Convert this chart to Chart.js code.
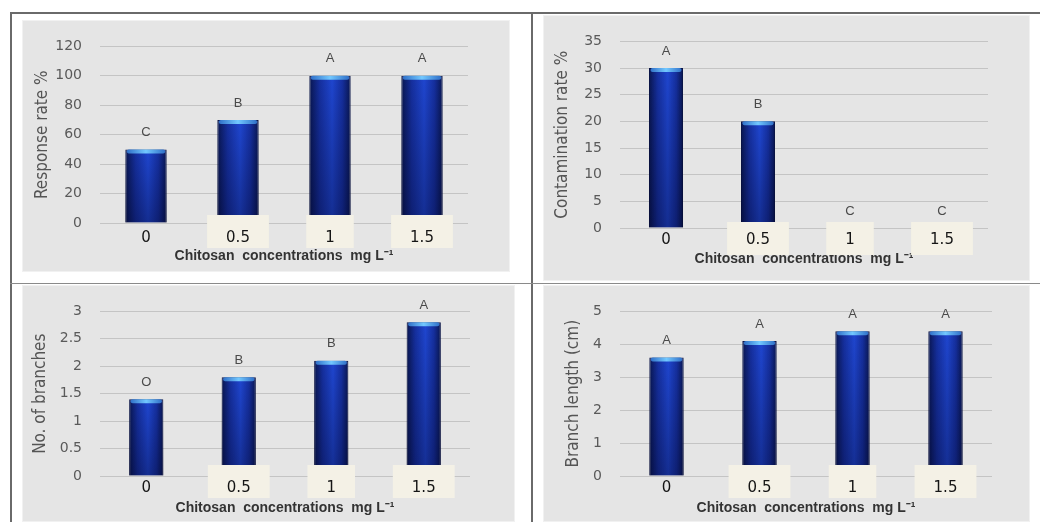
<!DOCTYPE html>
<html>
<head>
<meta charset="utf-8">
<script src="https://cdn.jsdelivr.net/npm/chart.js@4.4.1/dist/chart.umd.min.js"></script>
<style>
  html, body { margin: 0; padding: 0; background: #fff; }
  body { width: 1040px; height: 522px; position: relative; overflow: hidden; }
  .rule { position: absolute; background: #6a6a6a; }
  .panel { position: absolute; background: #e5e5e5; box-shadow: inset 0 0 0 1px #f1f1f1; }
</style>
</head>
<body>
<div class="rule" style="left:10px;top:12px;width:1030px;height:2px"></div>
<div class="rule" style="left:10px;top:12px;width:2px;height:510px"></div>
<div class="rule" style="left:531px;top:12px;width:2px;height:510px"></div>
<div class="rule" style="left:10px;top:283px;width:1030px;height:1px;background:#8a8a8a"></div>

<div class="panel" style="left:22px;top:20px;width:488px;height:252px"><canvas id="chartResponse"></canvas></div>
<div class="panel" style="left:543px;top:15px;width:487px;height:266px"><canvas id="chartContam"></canvas></div>
<div class="panel" style="left:22px;top:285px;width:493px;height:237px"><canvas id="chartBranches"></canvas></div>
<div class="panel" style="left:543px;top:285px;width:487px;height:237px"><canvas id="chartLength"></canvas></div>

<script>
// chitosan concentration (mg L-1) on every x axis
const categories = ['0', '0.5', '1', '1.5'];
const xTitle = 'Chitosan  concentrations  mg L\u207B\u00B9';

// panel 1: response rate
const responseRate = [50, 70, 100, 100];
const responseLetters = ['C', 'B', 'A', 'A'];

// panel 2: contamination rate
const contamRate = [30, 20, 0, 0];
const contamLetters = ['A', 'B', 'C', 'C'];

// panel 3: number of branches
const branchCount = [1.4, 1.8, 2.1, 2.8];
const branchLetters = ['O', 'B', 'B', 'A'];

// panel 4: branch length
const branchLength = [3.6, 4.1, 4.4, 4.4];
const lengthLetters = ['A', 'A', 'A', 'A'];

// horizontal gradient so the bars look like cylinders
function barFill(pct) {
    return function (ctx) {
        const xs = ctx.chart.scales.x;
        if (!xs || !xs.width) return '#1a3bb5';
        const cx = xs.getPixelForValue(ctx.dataIndex);
        const half = xs.width / categories.length * pct / 2;
        const g = ctx.chart.ctx.createLinearGradient(cx - half, 0, cx + half, 0);
        g.addColorStop(0, '#09164f');
        g.addColorStop(0.25, '#152f9e');
        g.addColorStop(0.55, '#1f46d0');
        g.addColorStop(0.8, '#152f9e');
        g.addColorStop(1, '#09164f');
        return g;
    };
}

const barDecor = {
    id: 'barDecor',
    afterDatasetsDraw(chart, args, opts) {
        const ctx = chart.ctx;
        const area = chart.chartArea;
        const meta = chart.getDatasetMeta(0);
        ctx.save();
        meta.data.forEach(function (bar, i) {
            const h = bar.base - bar.y;
            const half = bar.width / 2;
            if (h > 1) {
                // darker towards the base
                const sh = ctx.createLinearGradient(0, bar.y, 0, bar.base);
                sh.addColorStop(0, 'rgba(0,0,30,0)');
                sh.addColorStop(1, 'rgba(0,0,30,0.35)');
                ctx.fillStyle = sh;
                ctx.fillRect(bar.x - half, bar.y, bar.width, h);
                // light blue cap
                const cap = ctx.createLinearGradient(bar.x - half, 0, bar.x + half, 0);
                cap.addColorStop(0, '#2a68c4');
                cap.addColorStop(0.5, '#72c8ff');
                cap.addColorStop(1, '#2a68c4');
                ctx.fillStyle = cap;
                ctx.beginPath();
                if (ctx.roundRect) ctx.roundRect(bar.x - half + 1.5, bar.y, bar.width - 3, 4, 2);
                else ctx.rect(bar.x - half + 1.5, bar.y, bar.width - 3, 4);
                ctx.fill();
            }
            ctx.fillStyle = '#4a4a4a';
            ctx.font = '13px "Liberation Sans", Arial, sans-serif';
            ctx.textAlign = 'center';
            ctx.textBaseline = 'middle';
            ctx.fillText(opts.letters[i], bar.x, bar.y - 17);
        });
        // pale patches behind the pasted tick labels
        const xs = chart.scales.x;
        ctx.font = '15px "DejaVu Sans"';
        categories.forEach(function (c, i) {
            if (i === 0) return;
            const w = ctx.measureText(c).width + 38;
            const cx = xs.getPixelForTick(i);
            ctx.fillStyle = '#f4f1e6';
            ctx.fillRect(cx - w / 2, area.bottom - opts.lift, w, 33);
        });
        ctx.restore();
    }
};

function drawPanel(id, values, letters, yTitle, yMax, yStep, g) {
    return new Chart(document.getElementById(id), {
        type: 'bar',
        data: {
            labels: categories,
            datasets: [{
                data: values,
                backgroundColor: barFill(g.bar),
                borderColor: '#0a1548',
                borderWidth: 1,
                barPercentage: g.bar,
                categoryPercentage: 1
            }]
        },
        options: {
            responsive: true,
            maintainAspectRatio: false,
            animation: false,
            layout: { padding: { top: g.top, right: g.right, left: 0, bottom: 0 } },
            plugins: {
                legend: { display: false },
                tooltip: { enabled: false },
                barDecor: { letters: letters, lift: g.lift }
            },
            scales: {
                x: {
                    grid: { display: false, drawTicks: false },
                    border: { display: false },
                    ticks: {
                        z: 1,
                        color: '#151515',
                        font: { family: 'DejaVu Sans', size: 15 },
                        padding: g.xpad,
                        maxRotation: 0
                    },
                    title: {
                        display: true,
                        text: xTitle,
                        color: '#333',
                        font: { family: "'Liberation Sans', Arial, sans-serif", size: 14, weight: 'bold' },
                        padding: { top: 0, bottom: g.tpad }
                    },
                    afterFit: function (s) { s.height = g.xh; }
                },
                y: {
                    min: 0,
                    max: yMax,
                    ticks: {
                        stepSize: yStep,
                        color: '#5a5a5a',
                        font: { family: 'DejaVu Sans', size: 14 },
                        padding: 18,
                        callback: function (v) { return String(v); }
                    },
                    grid: { color: '#c4c4c4', drawTicks: false },
                    border: { display: false },
                    title: {
                        display: true,
                        text: yTitle,
                        color: '#555',
                        font: { family: "'Liberation Sans Narrow', 'DejaVu Sans Condensed', sans-serif", size: 17 },
                        padding: { top: g.ypad, bottom: 0 }
                    },
                    afterFit: function (s) { s.width = g.yw; }
                }
            }
        },
        plugins: [barDecor]
    });
}

drawPanel('chartResponse', responseRate, responseLetters, 'Response rate %', 120, 20,
    { bar: 0.45, top: 14, right: 42, yw: 78, xh: 49, xpad: 6, tpad: 7, ypad: 10, lift: 8 });
drawPanel('chartContam', contamRate, contamLetters, 'Contamination rate %', 35, 5,
    { bar: 0.37, top: 14, right: 42, yw: 77, xh: 53, xpad: 3, tpad: 13, ypad: 9, lift: 6 });
drawPanel('chartBranches', branchCount, branchLetters, 'No. of branches', 3, 0.5,
    { bar: 0.37, top: 11, right: 45, yw: 78, xh: 46, xpad: 3, tpad: 5, ypad: 8, lift: 11 });
drawPanel('chartLength', branchLength, lengthLetters, 'Branch length (cm)', 5, 1,
    { bar: 0.37, top: 11, right: 38, yw: 77, xh: 46, xpad: 3, tpad: 5, ypad: 20, lift: 11 });
</script>
</body>
</html>
